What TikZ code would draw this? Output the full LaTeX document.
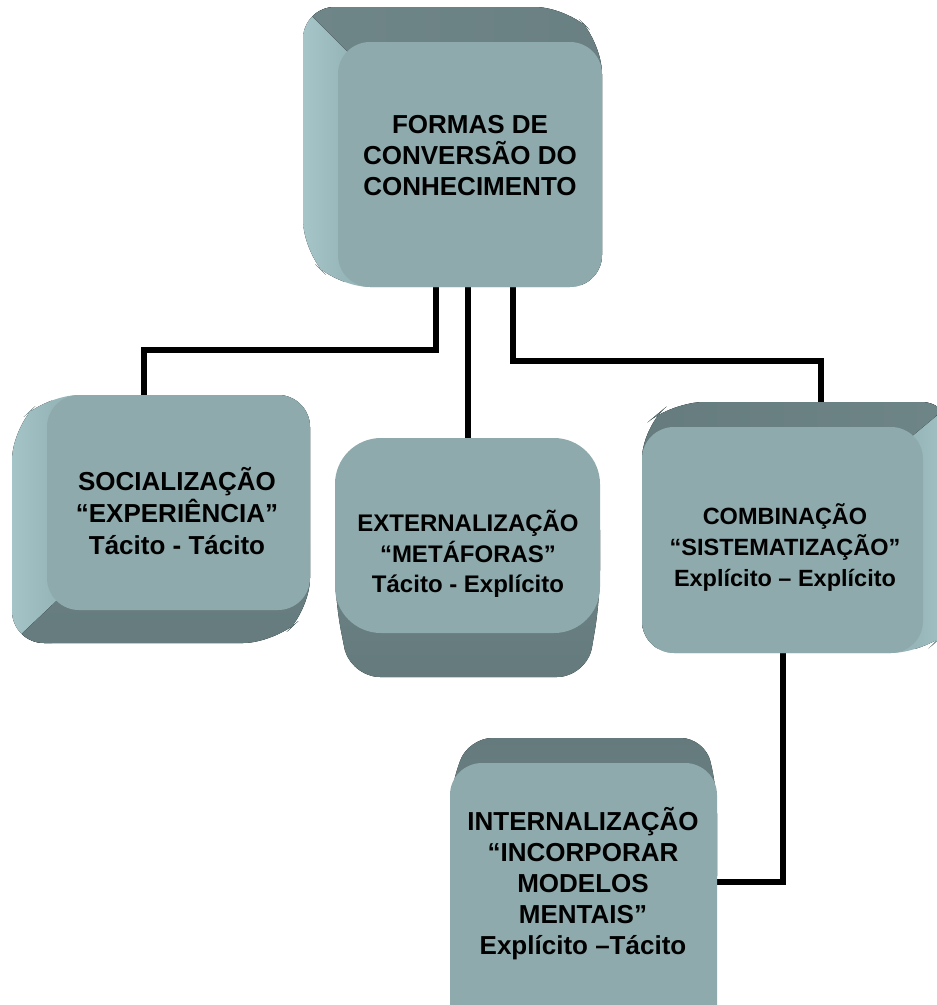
\documentclass[tikz,border=0pt]{standalone}
\usepackage{fontspec}
\setmainfont{Liberation Sans}
\usetikzlibrary{calc,backgrounds}
\definecolor{face}{RGB}{143,170,172}
\definecolor{sidedark}{RGB}{112,135,138}
\definecolor{sidedarker}{RGB}{100,122,125}
\definecolor{sidelight}{RGB}{166,198,201}
\definecolor{sidelightb}{RGB}{150,182,185}
\begin{document}
\begin{tikzpicture}[x=1pt,y=-1pt,
  facebox/.style={fill=face, rounded corners=32pt, inner sep=0pt, draw=none},
  lbl/.style={font=\bfseries, align=center, text=black, inner sep=0pt},
  link/.style={line width=6pt, draw=black},
  hull/.style={rounded corners=32pt}]
\useasboundingbox (0,0) rectangle (937,1005);
\clip (0,0) rectangle (937,1005);

% ---- extruded sides of the boxes ----
% top box: depth towards upper left
\begin{scope}
  \clip[hull] (303,7) -- (567,7) -- (602,42) -- (602,287) -- (338,287) -- (303,252) -- cycle;
  \fill[left color=sidelight, right color=sidelightb] (300,0) rectangle (345,300);
  \fill[sidelightb] (345,0) rectangle (610,300);
  \fill[left color=sidedark, right color=sidedarker] (250,-46) -- (900,-46) -- (900,604) -- cycle;
\end{scope}
% socializacao: depth towards lower left
\begin{scope}
  \clip[hull] (47,395) -- (310,395) -- (310,610) -- (275,643) -- (12,643) -- (12,428) -- cycle;
  \fill[left color=sidelight, right color=sidelightb] (5,380) rectangle (52,660);
  \fill[sidelightb] (52,380) rectangle (320,660);
  \fill[top color=sidedark, bottom color=sidedarker] (-10,663.7) -- (400,277.1) -- (400,700) -- (-10,700) -- cycle;
\end{scope}
% externalizacao: depth downwards, slightly narrower at the back
\fill[top color=sidedark, bottom color=sidedarker, rounded corners=30pt]
  (335,500) -- (600,500) -- (600,600) -- (587,677) -- (350,677) -- (335,600) -- cycle;
% combinacao: depth towards upper right
\begin{scope}
  \clip[hull] (672,402) -- (953,402) -- (953,628) -- (923,653) -- (642,653) -- (642,427) -- cycle;
  \fill[left color=sidelightb, right color=sidelight] (915,390) rectangle (960,660);
  \fill[sidelightb] (630,390) rectangle (915,660);
  \fill[left color=sidedarker, right color=sidedark] (600,696.2) -- (1000,362.8) -- (1000,300) -- (600,300) -- cycle;
\end{scope}
% internalizacao: depth upwards, slightly narrower at the back
\fill[top color=sidedarker, bottom color=sidedark, rounded corners=24pt]
  (468,738) -- (705,738) -- (717,790) -- (717,900) -- (450,900) -- (450,790) -- cycle;

% ---- front faces ----
\node[facebox, minimum width=264pt, minimum height=245pt] (top)  at (470,164.5) {};
\node[facebox, minimum width=263pt, minimum height=215pt] (soc)  at (178.5,502.5) {};
\node[facebox, rounded corners=46pt, minimum width=265pt, minimum height=195pt] (ext) at (467.5,535.5) {};
\node[facebox, minimum width=281pt, minimum height=226pt] (comb) at (782.5,540) {};
\node[facebox, minimum width=267pt, minimum height=277pt] (int)  at (583.5,901.5) {};

% ---- texts ----
\node[lbl, font=\bfseries\fontsize{26}{31}\selectfont] (topt) at (470,156)
  {FORMAS DE\\CONVERSÃO DO\\CONHECIMENTO};
\node[lbl, font=\bfseries\fontsize{26}{32}\selectfont] (soct) at (177,511)
  {SOCIALIZAÇÃO\\“EXPERIÊNCIA”\\Tácito - Tácito};
\node[lbl, font=\bfseries\fontsize{24}{30.5}\selectfont] (extt) at (468,554)
  {EXTERNALIZAÇÃO\\“METÁFORAS”\\Tácito - Explícito};
\node[lbl, font=\bfseries\fontsize{23.5}{31}\selectfont] (combt) at (785,547.5)
  {COMBINAÇÃO\\“SISTEMATIZAÇÃO”\\Explícito – Explícito};
\node[lbl, font=\bfseries\fontsize{26}{31}\selectfont] (intt) at (583,884)
  {INTERNALIZAÇÃO\\“INCORPORAR\\MODELOS\\MENTAIS”\\Explícito –Tácito};

% ---- connectors, behind the boxes ----
\begin{scope}[on background layer]
  \draw[link] ([xshift=-34pt]top.south) -- ++(0,63) -| ([xshift=-35pt]soc.north);
  \draw[link] ([xshift=-2pt]top.south) -- ([xshift=-2pt]top.south |- ext.north);
  \draw[link] ([xshift=43pt]top.south) -- ++(0,74) -| ([xshift=38pt]comb.north);
  \draw[link] ([xshift=0.5pt]comb.south) |- ([yshift=19.5pt]int.east);
\end{scope}
\end{tikzpicture}
\end{document}
